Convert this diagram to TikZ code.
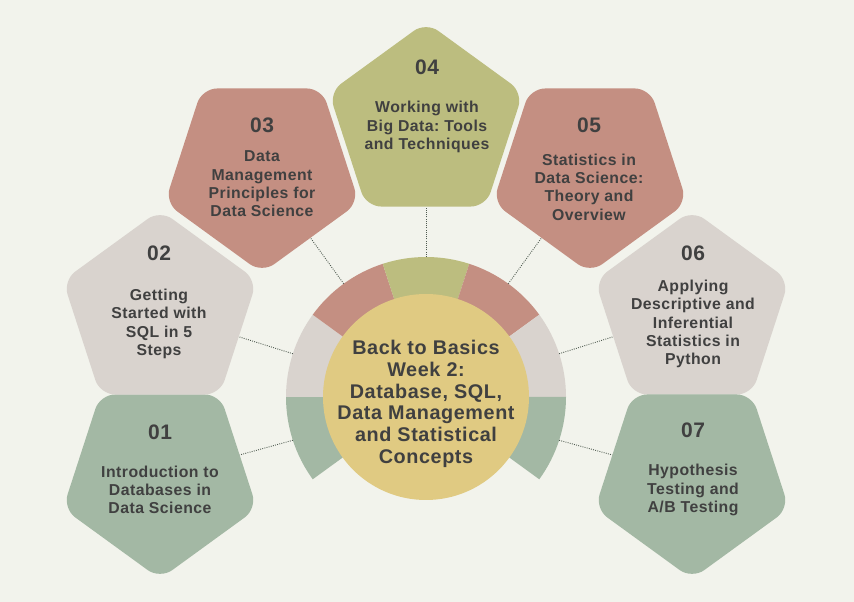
\documentclass[tikz,border=0pt]{standalone}
\usepackage{fontspec}
\setmainfont{Liberation Sans}[LetterSpace=3]
\usetikzlibrary{shapes.geometric}
\definecolor{bgc}{HTML}{F2F3EC}
\definecolor{greenc}{HTML}{A3B8A4}
\definecolor{greyc}{HTML}{D9D3CE}
\definecolor{redc}{HTML}{C48F82}
\definecolor{olivec}{HTML}{BCBD7F}
\definecolor{yellowc}{HTML}{E0CA82}
\definecolor{textc}{HTML}{404040}
\definecolor{linec}{HTML}{4F5A50}
\frenchspacing
\begin{document}
\begin{tikzpicture}[x=1pt,y=1pt,
 pent/.style={regular polygon, regular polygon sides=5, minimum size=204pt, inner sep=0pt, rounded corners=15pt, draw=none},
 pdown/.style={pent, shape border rotate=180},
 numtxt/.style={font=\bfseries\fontsize{21}{24}\selectfont, text=textc},
 bodytxt/.style={font=\bfseries\fontsize{15.8}{18.3}\selectfont, text=textc, align=center, inner sep=0pt},
 hubtxt/.style={font=\bfseries\fontsize{19.8}{21.7}\selectfont, text=textc, align=center, inner sep=0pt},
 conn/.style={draw=linec, line width=0.9pt, dash pattern=on 0.9pt off 1.3pt},
]
\fill[bgc] (0,0) rectangle (854,602);
\useasboundingbox (0,0) rectangle (854,602);
\coordinate (c) at (426,205);
% ring segments
\fill[greenc] (c) -- ++(180:140) arc (180:216:140) -- cycle;
\fill[greyc]  (c) -- ++(144:140) arc (144:180:140) -- cycle;
\fill[redc]   (c) -- ++(108:140) arc (108:144:140) -- cycle;
\fill[olivec] (c) -- ++(72:140) arc (72:108:140) -- cycle;
\fill[redc]   (c) -- ++(36:140) arc (36:72:140) -- cycle;
\fill[greyc]  (c) -- ++(0:140) arc (0:36:140) -- cycle;
\fill[greenc] (c) -- ++(-36:140) arc (-36:0:140) -- cycle;
\node[circle, fill=yellowc, minimum size=206pt, inner sep=0pt] (hub) at (c) {};
\node[hubtxt] (hubtext) at (426,198) {Back to Basics\\Week 2:\\Database, SQL,\\Data Management\\and Statistical\\Concepts};
% ring points
\path (c) ++(198:140) coordinate (r1);
\path (c) ++(162:140) coordinate (r2);
\path (c) ++(126:140) coordinate (r3);
\path (c) ++(90:140) coordinate (r4);
\path (c) ++(54:140) coordinate (r5);
\path (c) ++(18:140) coordinate (r6);
\path (c) ++(-18:140) coordinate (r7);
% pentagons
\node[pdown, fill=greenc] (p1) at (160,125) {};
\node[pent,  fill=greyc]  (p2) at (160,290) {};
\node[pdown, fill=redc]   (p3) at (262,431) {};
\node[pent,  fill=olivec] (p4) at (426,478) {};
\node[pdown, fill=redc]   (p5) at (590,431) {};
\node[pent,  fill=greyc]  (p6) at (692,290) {};
\node[pdown, fill=greenc] (p7) at (692,125) {};
% connectors
\draw[conn] (r1) -- (p1);
\draw[conn] (r2) -- (p2);
\draw[conn] (r3) -- (p3);
\draw[conn] (r4) -- (p4);
\draw[conn] (r5) -- (p5);
\draw[conn] (r6) -- (p6);
\draw[conn] (r7) -- (p7);
% texts
\node[numtxt] (n1) at (160,170) {01};
\node[bodytxt] (t1) at (160,112) {Introduction to\\Databases in\\Data Science};
\node[numtxt] (n2) at (159,349) {02};
\node[bodytxt] (t2) at (159,278) {Getting\\Started with\\SQL in 5\\Steps};
\node[numtxt] (n3) at (262,477) {03};
\node[bodytxt] (t3) at (262,418) {Data\\Management\\Principles for\\Data Science};
\node[numtxt] (n4) at (427,535) {04};
\node[bodytxt] (t4) at (427,475) {Working with\\Big Data: Tools\\and Techniques};
\node[numtxt] (n5) at (589,477) {05};
\node[bodytxt] (t5) at (589,415) {Statistics in\\Data Science:\\Theory and\\Overview};
\node[numtxt] (n6) at (693,349) {06};
\node[bodytxt] (t6) at (693,278) {Applying\\Descriptive and\\Inferential\\Statistics in\\Python};
\node[numtxt] (n7) at (693,172) {07};
\node[bodytxt] (t7) at (693,112) {Hypothesis\\Testing and\\A/B Testing};
\end{tikzpicture}
\end{document}
